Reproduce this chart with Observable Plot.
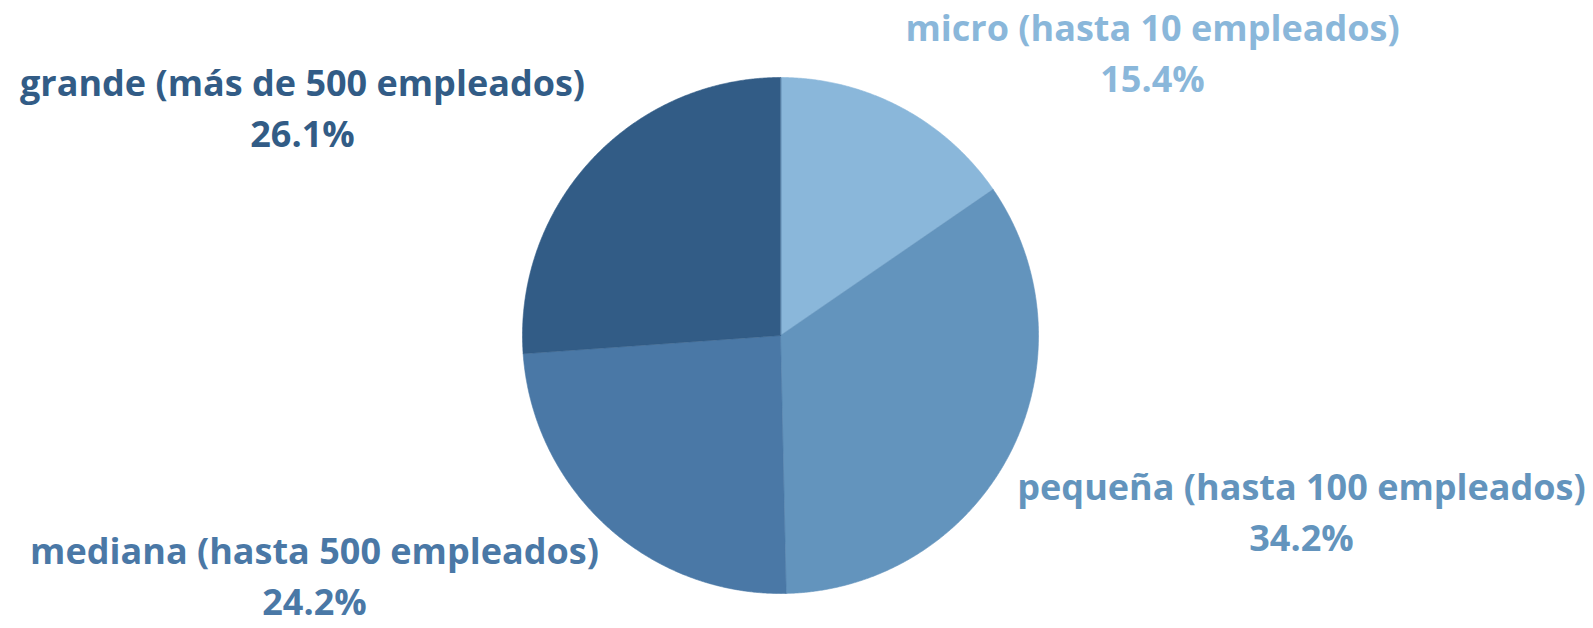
<!DOCTYPE html>
<html>
<head>
<meta charset="utf-8">
<script src="https://cdn.jsdelivr.net/npm/d3@7"></script>
<script src="https://cdn.jsdelivr.net/npm/@observablehq/plot@0.6"></script>
<style>
  html, body { margin: 0; padding: 0; background: #fff; }
  #chart svg { display: block; }
</style>
</head>
<body>
<div id="chart"></div>
<script>
// ---- data ----
const categories = [
  "micro (hasta 10 empleados)",
  "pequeña (hasta 100 empleados)",
  "mediana (hasta 500 empleados)",
  "grande (más de 500 empleados)"
];
const shares = [15.4, 34.2, 24.2, 26.1];
const colors = ["#8ab7da", "#6394bd", "#4a78a6", "#325c86"];

// ---- layout (pixels) ----
const W = 1593, H = 628;
const CX = 780, CY = 335, R = 258;
const labelPx = [ [1152, 50], [1301, 509], [314, 573], [302, 105] ];

// pie geometry via d3.pie (clockwise from 12 o'clock)
const arcs = d3.pie().sort(null).value(d => d)(shares);
const poly = [];
arcs.forEach((a, i) => {
  const n = Math.max(2, Math.ceil((a.endAngle - a.startAngle) / 0.005));
  poly.push({cat: categories[i], x: 0, y: 0});
  for (let k = 0; k <= n; k++) {
    const t = a.startAngle + (a.endAngle - a.startAngle) * k / n;
    poly.push({cat: categories[i], x: Math.sin(t), y: Math.cos(t)});
  }
});

const labels = categories.map((c, i) => ({
  cat: c,
  text: c + "\n" + shares[i].toFixed(1) + "%",
  x: (labelPx[i][0] - CX) / R,
  y: (CY - labelPx[i][1]) / R
}));

const chart = Plot.plot({
  width: W,
  height: H,
  margin: 0,
  x: {domain: [-CX / R, (W - CX) / R], axis: null},
  y: {domain: [-(H - CY) / R, CY / R], axis: null},
  color: {domain: categories, range: colors},
  style: {fontFamily: "'Open Sans', sans-serif", background: "#fff"},
  marks: [
    Plot.line(poly, {x: "x", y: "y", z: "cat", fill: "cat", stroke: "cat", strokeWidth: 0.6, curve: "linear-closed"}),
    Plot.text(labels, {
      x: "x", y: "y", text: "text", fill: "cat",
      fontSize: 36, fontWeight: 700, lineHeight: 1.4,
      textAnchor: "middle", lineAnchor: "middle"
    })
  ]
});
document.getElementById("chart").append(chart);
</script>
</body>
</html>
